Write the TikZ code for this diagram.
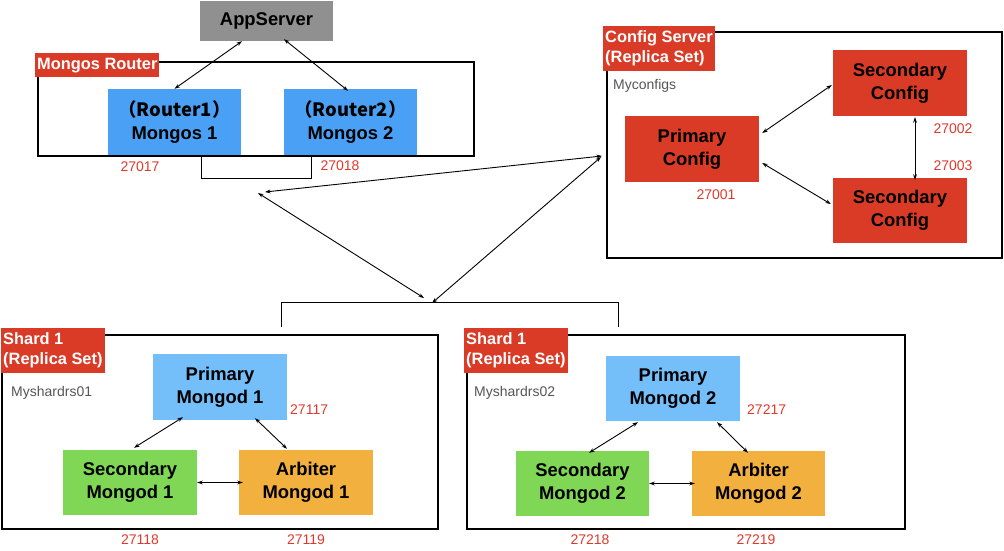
\documentclass[tikz,border=0pt]{standalone}
\usepackage{fontspec}
\setmainfont{Liberation Sans}
\newfontfamily\cjk{Noto Sans CJK SC}
\usetikzlibrary{arrows.meta,calc}
\definecolor{cgrey}{HTML}{909090}
\definecolor{crouter}{HTML}{4AA0F5}
\definecolor{cprim}{HTML}{74BEF9}
\definecolor{csec}{HTML}{80D655}
\definecolor{carb}{HTML}{F2B03E}
\definecolor{cred}{HTML}{D93B27}
\definecolor{cnum}{HTML}{E0392B}
\definecolor{ctxt}{HTML}{555555}
\begin{document}
\begin{tikzpicture}[x=1pt,y=-1pt,
  box/.style={draw=none, minimum width=134pt, minimum height=66pt, inner sep=0pt,
    align=center, font=\fontsize{18.4}{23}\selectfont\bfseries, text=black},
  frame/.style={draw=black, line width=2.6pt, fill=none, inner sep=0pt},
  tag/.style={fill=cred, text=white, font=\fontsize{16.4}{20}\selectfont\bfseries,
    align=left, inner xsep=2pt, inner ysep=0pt, anchor=north west},
  port/.style={text=cnum, font=\fontsize{14}{16}\selectfont, inner sep=0pt},
  rsname/.style={text=ctxt, font=\fontsize{14}{16}\selectfont, inner sep=0pt, anchor=west},
  link/.style={line width=0.9pt, {Stealth[length=5.5pt,width=3.8pt]}-{Stealth[length=5.5pt,width=3.8pt]}},
  wire/.style={line width=0.9pt}]
\useasboundingbox (0,0) rectangle (1004,551);

% ---------- frames ----------
\node[frame, minimum width=436pt, minimum height=94pt] (mr) at (256,109) {};
\node[frame, minimum width=395pt, minimum height=226pt] (cs) at (804.5,145) {};
\node[frame, minimum width=436pt, minimum height=194pt] (sh1) at (220,432) {};
\node[frame, minimum width=438pt, minimum height=194pt] (sh2) at (686,432) {};

% ---------- tags ----------
\node[tag, minimum height=24pt] (mrtag) at (35,53) {Mongos Router};
\node[tag, minimum height=45pt] (cstag) at (603,26) {Config Server\\(Replica Set)};
\node[tag, minimum height=45pt] (sh1tag) at (1,328) {Shard 1\\(Replica Set)};
\node[tag, minimum height=45pt] (sh2tag) at (464,328) {Shard 1\\(Replica Set)};

\node[rsname] (rscfg) at (613,86) {Myconfigs};
\node[rsname] (rs1) at (11,393) {Myshardrs01};
\node[rsname] (rs2) at (474,393) {Myshardrs02};

% ---------- boxes ----------
\node[box, fill=cgrey, minimum width=133pt, minimum height=40pt] (app) at (266.5,21) {AppServer};
\node[box, fill=crouter, minimum width=133pt] (r1) at (174.5,122) {\cjk{（}Router1\cjk{）}\\Mongos 1};
\node[box, fill=crouter, minimum width=133pt] (r2) at (350.5,122) {\cjk{（}Router2\cjk{）}\\Mongos 2};

\node[box, fill=cred] (pc) at (692,149) {Primary\\Config};
\node[box, fill=cred] (sc1) at (900,83) {Secondary\\Config};
\node[box, fill=cred, minimum height=65pt] (sc2) at (900,210.5) {Secondary\\Config};

\node[box, fill=cprim] (pm1) at (220,387) {Primary\\Mongod 1};
\node[box, fill=csec, minimum height=65pt] (sm1) at (130,482.5) {Secondary\\Mongod 1};
\node[box, fill=carb, minimum height=65pt] (am1) at (306,482.5) {Arbiter\\Mongod 1};

\node[box, fill=cprim, minimum height=65pt] (pm2) at (673,388.5) {Primary\\Mongod 2};
\node[box, fill=csec, minimum width=133pt, minimum height=65pt] (sm2) at (582.5,483.5) {Secondary\\Mongod 2};
\node[box, fill=carb, minimum width=133pt, minimum height=65pt] (am2) at (758.5,483.5) {Arbiter\\Mongod 2};

% ---------- ports ----------
\node[port] (p27017) at (140,167) {27017};
\node[port] (p27018) at (340,166) {27018};
\node[port] (p27001) at (716,195) {27001};
\node[port] (p27002) at (953,129) {27002};
\node[port] (p27003) at (953,166) {27003};
\node[port, anchor=west] (p27117) at (290,410) {27117};
\node[port] (p27118) at (140,540) {27118};
\node[port] (p27119) at (306,540) {27119};
\node[port, anchor=west] (p27217) at (747,410) {27217};
\node[port] (p27218) at (590,540) {27218};
\node[port] (p27219) at (756,540) {27219};

% ---------- connectors ----------
\draw[link] ([xshift=-24.5pt]app.south) -- (r1.north);
\draw[link] ([xshift=17.5pt,yshift=2pt]app.south) -- ([xshift=-2.5pt,yshift=-2pt]r2.north);
\draw[wire] ([xshift=26.5pt]r1.south) -- ++(0,23) -| ([xshift=-39.5pt]r2.south);

\draw[link] ([xshift=3pt,yshift=16pt]pc.east) -- ([xshift=-1pt,yshift=-2pt]sc1.west);
\draw[link] ([xshift=3pt,yshift=-14pt]pc.east) -- ([xshift=-2pt,yshift=6.5pt]sc2.west);
\draw[link] ([xshift=15pt,yshift=-1pt]sc1.south) -- ([xshift=15pt,yshift=-2pt]sc2.north);

\coordinate (Lr) at (265,192);
\coordinate (Lb) at (258,193);
\coordinate (Rl) at (602,156);
\coordinate (Rb) at (601,157);
\coordinate (Bl) at (424,298);
\coordinate (Br) at (432,303);
\draw[link] (Lr) -- (Rl);
\draw[link] (Lb) -- (Bl);
\draw[link] (Rb) -- (Br);

\draw[wire] ([xshift=61pt,yshift=7pt]sh1.north) -- ++(0,-24) -| ([xshift=-68pt,yshift=7pt]sh2.north);

\draw[link] ([xshift=-37pt,yshift=3pt]pm1.south) -- ([xshift=4pt,yshift=2pt]sm1.north);
\draw[link] ([xshift=35pt,yshift=2pt]pm1.south) -- ([xshift=-19pt,yshift=1pt]am1.north);
\draw[link] (sm1.east) -- ([xshift=4pt]am1.west);

\draw[link] ([xshift=-35pt,yshift=-1pt]pm2.south) -- ([xshift=6.5pt,yshift=-2pt]sm2.north);
\draw[link] ([xshift=44pt,yshift=-1pt]pm2.south) -- ([xshift=-10.5pt,yshift=-2pt]am2.north);
\draw[link] (sm2.east) -- ([xshift=3pt]am2.west);
\end{tikzpicture}
\end{document}
